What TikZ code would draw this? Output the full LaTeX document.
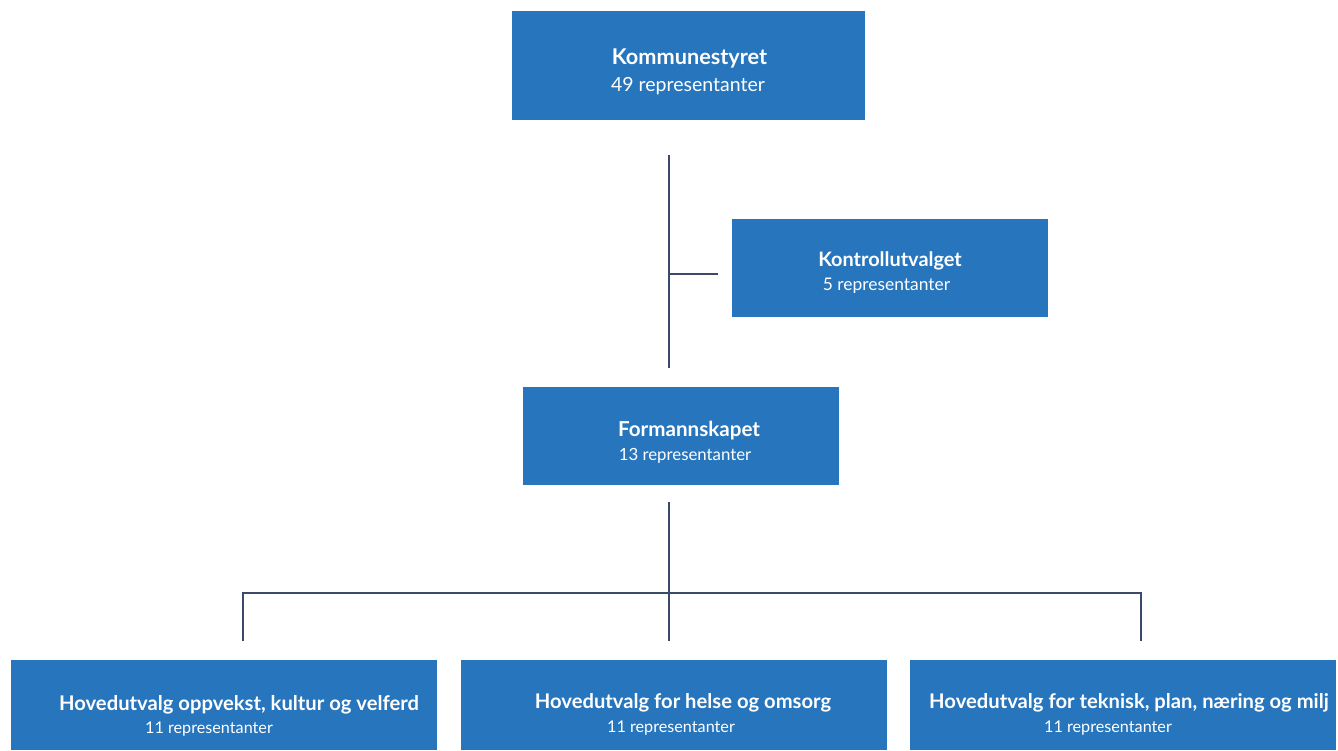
\documentclass[tikz,border=0pt]{standalone}
\usepackage{fontspec}
\setmainfont{Lato}
\definecolor{boxblue}{HTML}{2775BD}
\definecolor{linecol}{HTML}{3B4A6B}
\begin{document}
\begin{tikzpicture}[x=1pt,y=-1pt,
  orgbox/.style={fill=boxblue,draw=none,inner sep=0pt,anchor=north west},
  ttl/.style={text=white,font=\bfseries\fontsize{20.2}{22}\selectfont,inner sep=0pt},
  sub/.style={text=white,font=\fontsize{17}{20}\selectfont,inner sep=0pt},
  conn/.style={draw=linecol,line width=1.3pt}]
\useasboundingbox (0,0) rectangle (1338,750);
% boxes
\node[orgbox,minimum width=353pt,minimum height=109pt] (ks) at (512,11) {};
\node[orgbox,minimum width=316pt,minimum height=98pt] (ku) at (732,219) {};
\node[orgbox,minimum width=316pt,minimum height=98pt] (fs) at (523,387) {};
\node[orgbox,minimum width=426pt,minimum height=90pt] (h1) at (11,660) {};
\node[orgbox,minimum width=426pt,minimum height=90pt] (h2) at (461,660) {};
\node[orgbox,minimum width=426pt,minimum height=90pt] (h3) at (910,660) {};
% texts
\node[ttl,font=\bfseries\fontsize{21.7}{24}\selectfont] (ksT) at (689.5,58.5) {Kommunestyret};
\node[sub,font=\fontsize{19.5}{22}\selectfont] (ksS) at (688,86.5) {49 representanter};
\node[ttl,font=\bfseries\fontsize{19.9}{22}\selectfont] (kuT) at (890,261) {Kontrollutvalget};
\node[sub,font=\fontsize{17.4}{20}\selectfont] (kuS) at (886.5,286) {5 representanter};
\node[ttl,font=\bfseries\fontsize{20.6}{22}\selectfont] (fsT) at (689,431) {Formannskapet};
\node[sub,font=\fontsize{16.8}{20}\selectfont] (fsS) at (685,456) {13 representanter};
\node[ttl] (h1T) at (239,705) {Hovedutvalg oppvekst, kultur og velferd};
\node[sub,font=\fontsize{16.2}{20}\selectfont] (h1S) at (209,729) {11 representanter};
\node[ttl] (h2T) at (683,703) {Hovedutvalg for helse og omsorg};
\node[sub,font=\fontsize{16.2}{20}\selectfont] (h2S) at (671,728) {11 representanter};
\begin{scope}
\clip (910,660) rectangle (1336,750);
\node[ttl,anchor=west] (h3T) at (929,703) {Hovedutvalg for teknisk, plan, næring og milj};
\end{scope}
\node[sub,font=\fontsize{16.2}{20}\selectfont] (h3S) at (1108,728) {11 representanter};
% connector points
\coordinate (a1) at (669,155);
\coordinate (a2) at (669,368);
\coordinate (aT) at (669,274);
\coordinate (aK) at (718,274);
\coordinate (b1) at (669,502);
\coordinate (b2) at (669,641);
\coordinate (bl) at (243,593);
\coordinate (blD) at (243,641);
\coordinate (br) at (1141,593);
\coordinate (brD) at (1141,641);
\draw[conn] (a1) -- (a2);
\draw[conn] (aT) -- (aK);
\draw[conn] (b1) -- (b2);
\draw[conn] (blD) -- (bl) -- (br) -- (brD);
\end{tikzpicture}
\end{document}
